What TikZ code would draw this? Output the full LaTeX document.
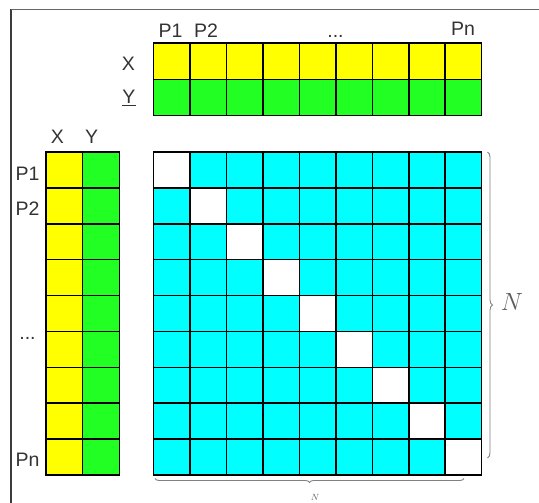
\documentclass[tikz,border=0pt]{standalone}
\usepackage{fontspec}
\setmainfont{Liberation Sans}
\usetikzlibrary{decorations.pathreplacing}
\definecolor{cyellow}{RGB}{255,255,0}
\definecolor{cgreen}{RGB}{34,255,34}
\definecolor{ccyan}{RGB}{0,255,255}
\definecolor{ctext}{RGB}{51,51,51}
\definecolor{cframe}{RGB}{60,60,60}
\begin{document}
\begin{tikzpicture}[x=1pt,y=-1pt,
  cell/.style={draw=black, line width=1.5pt, anchor=north west, inner sep=0pt, outer sep=0pt},
  topcell/.style={cell, minimum width=36.44pt, minimum height=36.3pt},
  matcell/.style={cell, minimum width=36.44pt, minimum height=35.89pt},
  leftcell/.style={cell, minimum width=36.65pt, minimum height=35.89pt},
  lbl/.style={text=ctext, inner sep=0pt, font=\fontsize{19.5}{22}\selectfont},
  bracestyle/.style={draw=gray, line width=0.9pt, decorate, decoration={brace, amplitude=5pt}}]
\useasboundingbox (0,0) rectangle (539,503);

% frame edges
\coordinate (fbl) at (11,503);
\coordinate (ftl) at (11,9.3);
\coordinate (ftr) at (539,9.3);
\draw[cframe, line width=2pt] (fbl) -- (ftl);
\draw[gray!80!black, line width=1.4pt] (ftl) -- (ftr);

% top arrays: X row and Y row
\foreach \j in {1,...,9} {
  \node[topcell, fill=cyellow] (tx-\j) at ({153.7+(\j-1)*36.44}, 43) {};
  \node[topcell, fill=cgreen]  (ty-\j) at ({153.7+(\j-1)*36.44}, 79.3) {};
}

% left arrays: X column and Y column
\foreach \i in {1,...,9} {
  \node[leftcell, fill=cyellow] (lx-\i) at (46, {152+(\i-1)*35.89}) {};
  \node[leftcell, fill=cgreen]  (ly-\i) at (82.65, {152+(\i-1)*35.89}) {};
}

% N x N matrix with white diagonal
\foreach \i in {1,...,9} {
  \foreach \j in {1,...,9} {
    \ifnum\i=\j \def\cfill{white}\else \def\cfill{ccyan}\fi
    \node[matcell, fill=\cfill] (m-\i-\j) at ({153.7+(\j-1)*36.44}, {152+(\i-1)*35.89}) {};
  }
}

% labels of the top arrays
\node[lbl] (tl-x) at (128.3,64) {X};
\node[lbl] (tl-y) at (129,98) {\underline{Y}};
\node[lbl, anchor=base] (tp-1) at (170.5,37.3) {P1};
\node[lbl, anchor=base] (tp-2) at (206,37.3) {P2};
\node[lbl, anchor=base] (tp-d) at (335.5,37.3) {...};
\node[lbl, anchor=base] (tp-n) at (463,35.5) {Pn};

% labels of the left arrays
\node[lbl] (ll-x) at (57.5,136.7) {X};
\node[lbl] (ll-y) at (91.7,136.7) {Y};
\node[lbl] (lp-1) at (27.5,174) {P1};
\node[lbl] (lp-2) at (27.5,209) {P2};
\node[lbl, anchor=base] (lp-d) at (27.5,339.5) {...};
\node[lbl] (lp-n) at (27.5,460) {Pn};

% braces with size labels
\coordinate (rb1) at (487.5,152);
\coordinate (rb2) at (487.5,458);
\draw[bracestyle] (rb1) -- (rb2);
\node[text=ctext!80, font=\fontsize{23}{26}\selectfont] (nr) at (512,302) {$N$};
\coordinate (bb1) at (464,478.5);
\coordinate (bb2) at (155,478.5);
\draw[bracestyle, decoration={brace, amplitude=4pt}] (bb1) -- (bb2);
\node[text=ctext!80, font=\fontsize{9}{10}\selectfont] (nb) at (315,497.5) {$N$};
\end{tikzpicture}
\end{document}
